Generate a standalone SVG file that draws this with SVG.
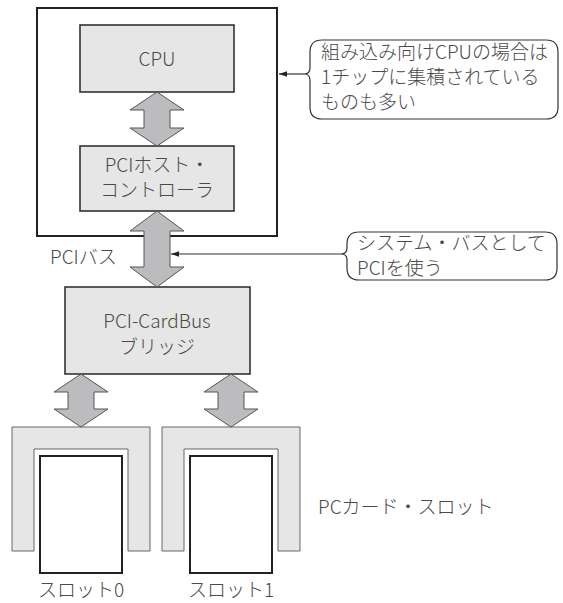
<svg xmlns="http://www.w3.org/2000/svg" width="563" height="603" viewBox="0 0 563 603">
<defs>
<style>
.t{font-family:"Noto Sans CJK JP","Liberation Sans",sans-serif;font-size:19px;font-weight:300;fill:#4a4a4a;}
.c{text-anchor:middle;}
.box{fill:#e6e6e6;stroke:#333;stroke-width:1.6;}
.arr{fill:#bcbcbe;stroke:#555;stroke-width:1;}
.slot{fill:#e6e6e6;stroke:#666;stroke-width:1;}
.card{fill:#fff;stroke:#222;stroke-width:2;}
.co{fill:#fff;stroke:#333;stroke-width:1.2;}
.ln{stroke:#333;stroke-width:1.2;fill:none;marker-end:url(#ah);}
</style>
<marker id="ah" viewBox="0 0 10 10" refX="10" refY="5" markerWidth="8" markerHeight="8" markerUnits="userSpaceOnUse" orient="auto">
<path d="M0,1.5 L10,5 L0,8.5 Z" fill="#222"/>
</marker>
</defs>
<g id="host-system">
<rect x="37" y="8" width="240" height="228" fill="#fff" stroke="#222" stroke-width="2"/>
</g>
<g id="cpu">
<rect class="box" x="80" y="25" width="154" height="67"/>
<text class="t c" x="157" y="66">CPU</text>
</g>
<g id="pci-host">
<rect class="box" x="80" y="146" width="154" height="65"/>
<text class="t c" x="157" y="172">PCIホスト・</text>
<text class="t c" x="157" y="197">コントローラ</text>
</g>
<g id="bridge">
<rect class="box" x="65" y="287" width="185" height="87"/>
<text class="t c" x="157" y="328">PCI-CardBus</text>
<text class="t c" x="157" y="354">ブリッジ</text>
</g>
<g id="slot0">
<path class="slot" d="M12,427 H150 V551 H128 V449 H34 V551 H12 Z"/>
<rect class="card" x="40" y="456" width="82" height="117"/>
<text class="t c" x="81" y="597">スロット0</text>
</g>
<g id="slot1">
<path class="slot" d="M162,427 H300 V551 H278 V449 H184 V551 H162 Z"/>
<rect class="card" x="190" y="456" width="82" height="117"/>
<text class="t c" x="231" y="597">スロット1</text>
</g>
<g id="callout1">
<path class="co" d="M322,40 H546 Q558,40 558,52 V107 Q558,119 546,119 H322 Q310,119 310,107 V80 Q310,74 304,74 Q310,74 310,68 V52 Q310,40 322,40 Z"/>
<text class="t" x="321" y="59">組み込み向けCPUの場合は</text>
<text class="t" x="321" y="84">1チップに集積されている</text>
<text class="t" x="321" y="109">ものも多い</text>
</g>
<g id="callout2">
<path class="co" d="M359,232 H545 Q557,232 557,244 V268 Q557,280 545,280 H359 Q347,280 347,268 V260 Q347,254 341,254 Q347,254 347,248 V244 Q347,232 359,232 Z"/>
<text class="t" x="357" y="250">システム・バスとして</text>
<text class="t" x="357" y="275">PCIを使う</text>
</g>
<g id="labels">
<text class="t" x="50" y="264">PCIバス</text>
<text class="t" x="318" y="514">PCカード・スロット</text>
</g>
<g id="connectors">
<path class="arr" d="M157,92 L184,110 L170,110 L170,128 L184,128 L157,146 L130,128 L144,128 L144,110 L130,110 Z"/>
<path class="arr" d="M157,211 L184,231 L170,231 L170,267 L184,267 L157,287 L130,267 L144,267 L144,231 L130,231 Z"/>
<path class="arr" d="M81,374 L108,392 L94,392 L94,409 L108,409 L81,427 L54,409 L68,409 L68,392 L54,392 Z"/>
<path class="arr" d="M231,374 L258,392 L244,392 L244,409 L258,409 L231,427 L204,409 L218,409 L218,392 L204,392 Z"/>
<line class="ln" x1="304" y1="74" x2="279" y2="74"/>
<line class="ln" x1="341" y1="254" x2="171" y2="254"/>
</g>
</svg>
